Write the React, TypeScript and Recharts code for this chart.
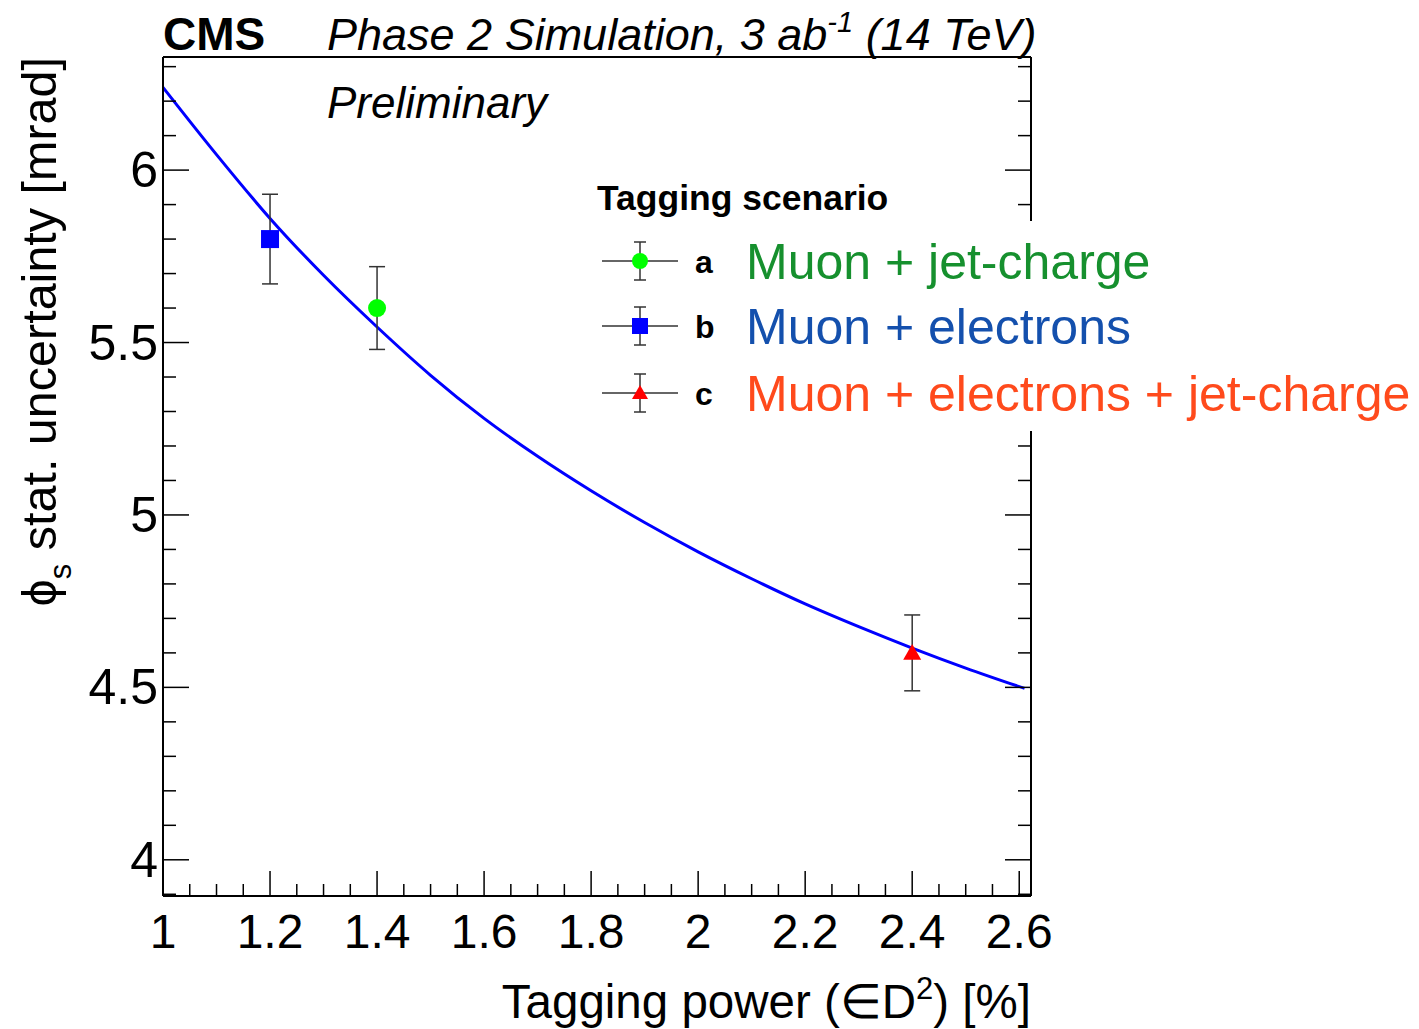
import React from 'react';
import {
  ComposedChart,
  Line,
  Scatter,
  ErrorBar,
  XAxis,
  YAxis,
} from 'recharts';

// fitted curve: sigma(phi_s) vs tagging power
const curveX = [1.0, 1.1, 1.2, 1.3, 1.4, 1.5, 1.6, 1.7, 1.8, 1.9, 2.0, 2.1, 2.2, 2.3, 2.4, 2.5, 2.61];
const curveY = [6.24, 6.045, 5.86, 5.695, 5.545, 5.405, 5.28, 5.17, 5.07, 4.978, 4.893, 4.815, 4.742, 4.676, 4.614, 4.556, 4.497];

// tagging scenarios
const scenarioIds = ['a', 'b', 'c'];
const scenarioPower = [1.4, 1.2, 2.4];
const scenarioUnc = [5.6, 5.8, 4.6];
const scenarioErr = [0.12, 0.13, 0.11];
const scenarioLabels = ['Muon + jet-charge', 'Muon + electrons', 'Muon + electrons + jet-charge'];
const scenarioMarker = ['circle', 'square', 'triangle'];
const markerColors = ['#00ff00', '#0000ff', '#ff0000'];
const labelColors = ['#16902e', '#1450ad', '#ff4a1c'];

// axis ticks
const xMajor = [1, 1.2, 1.4, 1.6, 1.8, 2, 2.2, 2.4, 2.6];
const yMajor = [4, 4.5, 5, 5.5, 6];
const xTicks: number[] = [];
for (let i = 0; i <= 32; i++) xTicks.push(Math.round((1 + i * 0.05) * 100) / 100);
const yTicks: number[] = [];
for (let i = 0; i <= 24; i++) yTicks.push(Math.round((3.9 + i * 0.1) * 100) / 100);

const X_DOMAIN: [number, number] = [1, 2.622];
const Y_DOMAIN: [number, number] = [3.895, 6.328];

const W = 1419;
const H = 1029;
const FONT = '"Liberation Sans", Arial, Helvetica, sans-serif';

const curveData = curveX.map((x, i) => ({ x, y: curveY[i] }));
const scenarioData = scenarioIds.map((id, i) => [
  { x: scenarioPower[i], y: scenarioUnc[i], err: scenarioErr[i] },
]);

const isMajor = (v: number, majors: number[]) => majors.some((m) => Math.abs(m - v) < 1e-6);

function Marker({ kind, cx, cy, color, s = 9 }: { kind: string; cx: number; cy: number; color: string; s?: number }) {
  if (kind === 'square') return <rect x={cx - s} y={cy - s} width={2 * s} height={2 * s} fill={color} />;
  if (kind === 'triangle')
    return <polygon points={`${cx},${cy - s} ${cx + s},${cy + s * 0.75} ${cx - s},${cy + s * 0.75}`} fill={color} />;
  return <circle cx={cx} cy={cy} r={s} fill={color} />;
}

const BottomTick = (props: any) => {
  const { x, y, payload } = props;
  const major = isMajor(payload.value, xMajor);
  return (
    <g>
      <line x1={x} x2={x} y1={y} y2={y - (major ? 25 : 12)} stroke="#000" strokeWidth={1.5} />
      {major && (
        <text x={x} y={y + 52} textAnchor="middle" fontSize={48} fontFamily={FONT} fill="#000">
          {payload.value}
        </text>
      )}
    </g>
  );
};

const TopTick = (props: any) => {
  const { x, y, payload } = props;
  const major = isMajor(payload.value, xMajor);
  return <line x1={x} x2={x} y1={y} y2={y + (major ? 25 : 12)} stroke="#000" strokeWidth={1.5} />;
};

const LeftTick = (props: any) => {
  const { x, y, payload } = props;
  const major = isMajor(payload.value, yMajor);
  return (
    <g>
      <line x1={x} x2={x + (major ? 26 : 13)} y1={y} y2={y} stroke="#000" strokeWidth={1.5} />
      {major && (
        <text x={x - 5} y={y + 17} textAnchor="end" fontSize={50} fontFamily={FONT} fill="#000">
          {payload.value}
        </text>
      )}
    </g>
  );
};

const RightTick = (props: any) => {
  const { x, y, payload } = props;
  const major = isMajor(payload.value, yMajor);
  return <line x1={x} x2={x - (major ? 26 : 13)} y1={y} y2={y} stroke="#000" strokeWidth={1.5} />;
};

const legendRows = [261, 326, 393];

export default function App() {
  return (
    <div style={{ position: 'absolute', left: 0, top: 0, width: W, height: H, background: '#fff' }}>
      <ComposedChart width={W} height={H} margin={{ top: 47, right: 378, bottom: 53, left: 63 }}>
        <XAxis
          xAxisId="main"
          type="number"
          dataKey="x"
          domain={X_DOMAIN}
          allowDataOverflow
          ticks={xTicks}
          interval={0}
          tick={<BottomTick />}
          tickLine={false}
          tickSize={0}
          tickMargin={0}
          height={80}
          axisLine={{ stroke: '#000', strokeWidth: 2 }}
        />
        <XAxis
          xAxisId="top"
          orientation="top"
          type="number"
          domain={X_DOMAIN}
          allowDataOverflow
          ticks={xTicks}
          interval={0}
          tick={<TopTick />}
          tickLine={false}
          tickSize={0}
          tickMargin={0}
          height={10}
          axisLine={{ stroke: '#000', strokeWidth: 2 }}
        />
        <YAxis
          yAxisId="main"
          type="number"
          domain={Y_DOMAIN}
          allowDataOverflow
          ticks={yTicks}
          interval={0}
          tick={<LeftTick />}
          tickLine={false}
          tickSize={0}
          tickMargin={0}
          width={100}
          axisLine={{ stroke: '#000', strokeWidth: 2 }}
        />
        <YAxis
          yAxisId="right"
          orientation="right"
          type="number"
          domain={Y_DOMAIN}
          allowDataOverflow
          ticks={yTicks}
          interval={0}
          tick={<RightTick />}
          tickLine={false}
          tickSize={0}
          tickMargin={0}
          width={10}
          axisLine={{ stroke: '#000', strokeWidth: 2 }}
        />
        <Line
          xAxisId="main"
          yAxisId="main"
          data={curveData}
          dataKey="y"
          type="monotone"
          stroke="#0000ff"
          strokeWidth={3}
          dot={false}
          activeDot={false}
          isAnimationActive={false}
        />
        {scenarioIds.map((id, i) => (
          <Scatter
            key={id}
            xAxisId="main"
            yAxisId="main"
            data={scenarioData[i]}
            dataKey="y"
            isAnimationActive={false}
            shape={(p: any) => <Marker kind={scenarioMarker[i]} cx={p.cx} cy={p.cy} color={markerColors[i]} />}
          >
            <ErrorBar dataKey="err" direction="y" width={8} stroke="#333" strokeWidth={1.5} />
          </Scatter>
        ))}
      </ComposedChart>

      <svg width={W} height={H} style={{ position: 'absolute', left: 0, top: 0, pointerEvents: 'none' }}>
        {/* header */}
        <text x={163} y={50} fontSize={46} fontWeight="bold" fontFamily={FONT}>CMS</text>
        <text x={327} y={50} fontSize={45} fontStyle="italic" fontFamily={FONT}>
          Phase 2 Simulation, 3 ab
          <tspan dy={-18} fontSize={29}>-1</tspan>
          <tspan dy={18}> (14 TeV)</tspan>
        </text>
        <text x={327} y={118} fontSize={44} fontStyle="italic" fontFamily={FONT}>Preliminary</text>

        {/* axis titles */}
        <text x={1031} y={1018} textAnchor="end" fontSize={47.5} fontFamily={FONT}>
          Tagging power (∈D
          <tspan dy={-19} fontSize={31}>2</tspan>
          <tspan dy={19}>) [%]</tspan>
        </text>
        <text transform="translate(56,57) rotate(-90)" textAnchor="end" fontSize={48.5} fontFamily={FONT}>
          ϕ<tspan dy={15} fontSize={31}>s</tspan>
          <tspan dy={-15}> stat. uncertainty [mrad]</tspan>
        </text>

        {/* legend */}
        <rect x={740} y={221} width={W - 740} height={210} fill="#fff" />
        <text x={597} y={210} fontSize={35.5} fontWeight="bold" fontFamily={FONT}>Tagging scenario</text>
        {scenarioIds.map((id, i) => {
          const cy = legendRows[i];
          return (
            <g key={id}>
              <line x1={602} x2={678} y1={cy} y2={cy} stroke="#333" strokeWidth={1.5} />
              <line x1={640} x2={640} y1={cy - 19} y2={cy + 19} stroke="#333" strokeWidth={1.5} />
              <line x1={634} x2={646} y1={cy - 19} y2={cy - 19} stroke="#333" strokeWidth={1.5} />
              <line x1={634} x2={646} y1={cy + 19} y2={cy + 19} stroke="#333" strokeWidth={1.5} />
              <Marker kind={scenarioMarker[i]} cx={640} cy={cy} color={markerColors[i]} s={8} />
              <text x={695} y={cy + 12} fontSize={32} fontWeight="bold" fontFamily={FONT}>{id}</text>
              <text x={746} y={cy + 18} fontSize={50} fontFamily={FONT} fill={labelColors[i]}>
                {scenarioLabels[i]}
              </text>
            </g>
          );
        })}
      </svg>
    </div>
  );
}
